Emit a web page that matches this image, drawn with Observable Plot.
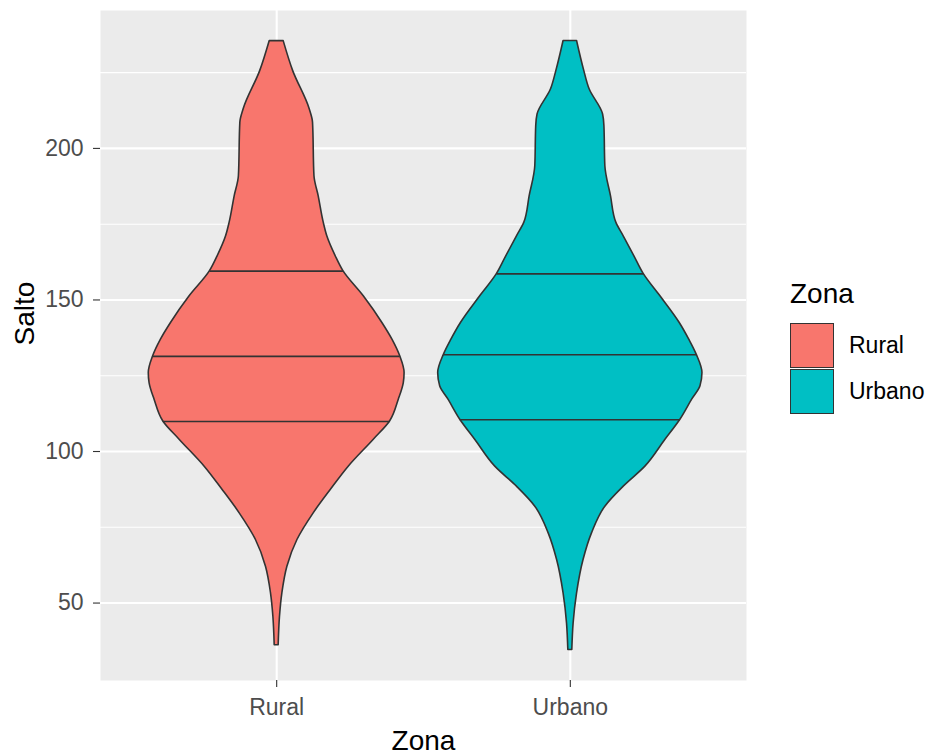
<!DOCTYPE html>
<html>
<head>
<meta charset="utf-8">
<script src="https://cdn.jsdelivr.net/npm/d3@7"></script>
<script src="https://cdn.jsdelivr.net/npm/@observablehq/plot@0.6"></script>
<style>
  html, body { margin: 0; padding: 0; background: #fff; }
  #wrap { position: relative; width: 935px; height: 756px; font-family: "Liberation Sans", Arial, sans-serif; }
  #legend { position: absolute; left: 790px; top: 278px; }
  #legend .title { font-size: 28px; color: #000; line-height: 32px; margin-bottom: 12px; }
  #legend .row { display: flex; align-items: center; height: 46px; }
  #legend .key { width: 42px; height: 43px; border: 1.6px solid #333; }
  #legend .lab { font-size: 23px; color: #000; margin-left: 15px; }
</style>
</head>
<body>
<div id="wrap"><div id="chart"></div><div id="legend"></div></div>
<script>
// ---- Data ----
const zonas = ["Rural", "Urbano"];
const colores = ["#F8766D", "#00BFC4"];
const yTicks = [50, 100, 150, 200];
const yMinor = [75, 125, 175, 225];

// Violin outline: Salto values and relative density (half-width, 1 = widest)
const saltoRural = [36.1, 45.5, 53.2, 62.0, 70.8, 79.6, 87.3, 95.0, 103.9, 109.9, 117.1, 122.6, 125.9, 131.4, 136.9, 142.4, 151.2, 159.5, 164.4, 171.0, 175.5, 184.2, 190.8, 208.5, 212.9, 225.5, 235.4];
const densRural  = [0.015, 0.025, 0.043, 0.081, 0.157, 0.28, 0.409, 0.545, 0.735, 0.858, 0.924, 0.962, 0.968, 0.935, 0.876, 0.80, 0.659, 0.505, 0.447, 0.383, 0.356, 0.318, 0.286, 0.275, 0.25, 0.125, 0.053];
const saltoUrbano = [34.5, 43.3, 53.2, 64.2, 73.0, 81.8, 88.4, 95.0, 103.9, 110.5, 117.1, 121.5, 125.9, 131.9, 136.9, 142.4, 151.2, 158.6, 164.4, 171.0, 175.5, 184.2, 194.2, 207.4, 211.2, 219.5, 225.5, 235.45];
const densUrbano  = [0.015, 0.025, 0.051, 0.10, 0.164, 0.265, 0.404, 0.568, 0.72, 0.833, 0.922, 0.985, 1.0, 0.957, 0.9, 0.828, 0.682, 0.555, 0.485, 0.404, 0.348, 0.308, 0.265, 0.258, 0.248, 0.146, 0.106, 0.051];

// Quantile lines (25%, 50%, 75%) and relative density at each
const qRural = [109.9, 131.4, 159.5];
const qDensRural = [0.858, 0.935, 0.505];
const qUrbano = [110.5, 131.9, 158.6];
const qDensUrbano = [0.833, 0.957, 0.555];

// ---- Build tables ----
const halfWidth = 0.45; // ggplot violin width 0.9
const violin = [];
saltoRural.forEach((v, i) => violin.push({zona: "Rural", pos: 1, salto: v, dens: densRural[i]}));
saltoUrbano.forEach((v, i) => violin.push({zona: "Urbano", pos: 2, salto: v, dens: densUrbano[i]}));
const quant = [];
qRural.forEach((v, i) => quant.push({zona: "Rural", pos: 1, salto: v, dens: qDensRural[i]}));
qUrbano.forEach((v, i) => quant.push({zona: "Urbano", pos: 2, salto: v, dens: qDensUrbano[i]}));

const font = "'Liberation Sans', Arial, sans-serif";

const chart = Plot.plot({
  width: 935,
  height: 756,
  marginLeft: 100,
  marginRight: 189,
  marginTop: 10,
  marginBottom: 76,
  style: {fontFamily: font, background: "transparent", overflow: "visible"},
  x: {domain: [0.4, 2.6], axis: null},
  y: {domain: [24.45, 245.5], axis: null},
  color: {domain: zonas, range: colores},
  marks: [
    Plot.frame({fill: "#EBEBEB", stroke: null}),
    Plot.gridY(yMinor, {stroke: "#fff", strokeOpacity: 1, strokeWidth: 1.1}),
    Plot.gridY(yTicks, {stroke: "#fff", strokeOpacity: 1, strokeWidth: 2.1}),
    Plot.gridX([1, 2], {stroke: "#fff", strokeOpacity: 1, strokeWidth: 2.1}),
    Plot.areaX(violin, {
      y: "salto",
      x1: d => d.pos - d.dens * halfWidth,
      x2: d => d.pos + d.dens * halfWidth,
      z: "zona",
      fill: "zona",
      stroke: "#333333",
      strokeWidth: 1.6,
      curve: "monotone-y"
    }),
    Plot.ruleY(quant, {
      y: "salto",
      x1: d => d.pos - d.dens * halfWidth,
      x2: d => d.pos + d.dens * halfWidth,
      stroke: "#333333",
      strokeWidth: 1.6
    }),
    Plot.axisY(yTicks, {
      tickSize: 7, tickPadding: 10, fontSize: 23, color: "#4D4D4D",
      stroke: "#333333", strokeWidth: 1.1, label: null
    }),
    Plot.axisX([1, 2], {
      tickSize: 7, tickPadding: 11, fontSize: 23, color: "#4D4D4D",
      stroke: "#333333", strokeWidth: 1.1, label: null,
      tickFormat: d => zonas[d - 1]
    }),
    Plot.text(["Zona"], {frameAnchor: "bottom", dy: 69, lineAnchor: "bottom", fontSize: 28, fill: "#000"}),
    Plot.text(["Salto"], {frameAnchor: "left", dx: -67, rotate: -90, lineAnchor: "bottom", fontSize: 28, fill: "#000"})
  ]
});
document.getElementById("chart").appendChild(chart);

// ---- Legend ----
const leg = document.getElementById("legend");
const t = document.createElement("div");
t.className = "title";
t.textContent = "Zona";
leg.appendChild(t);
zonas.forEach((z, i) => {
  const row = document.createElement("div");
  row.className = "row";
  const key = document.createElement("div");
  key.className = "key";
  key.style.background = colores[i];
  const lab = document.createElement("div");
  lab.className = "lab";
  lab.textContent = z;
  row.appendChild(key);
  row.appendChild(lab);
  leg.appendChild(row);
});
</script>
</body>
</html>
